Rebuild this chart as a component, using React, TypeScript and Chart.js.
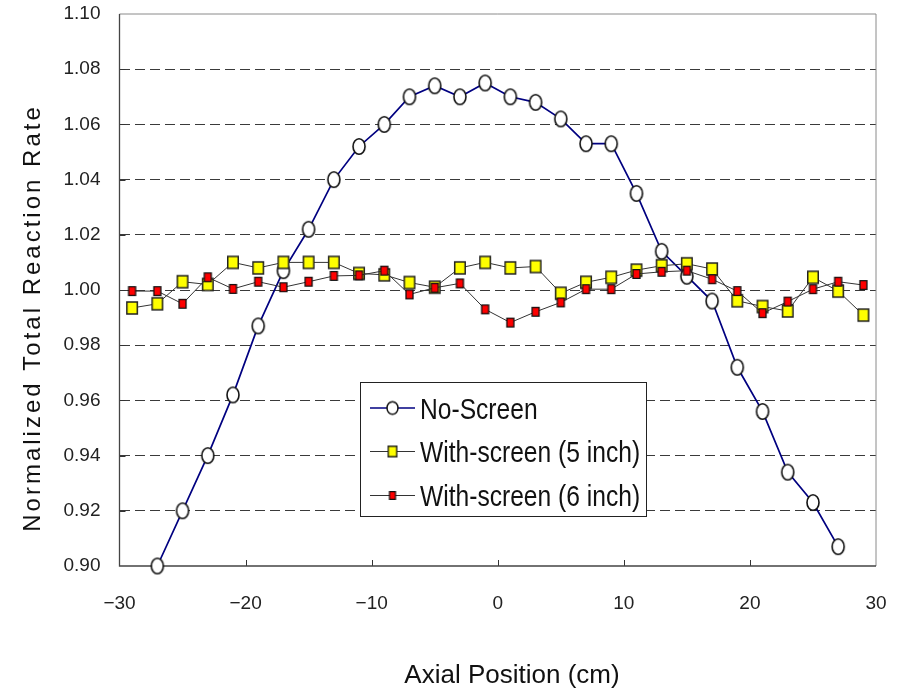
import React, { useEffect, useRef } from 'react';
import { Chart, registerables } from 'chart.js';

Chart.register(...registerables);

// ---- Data ----
const axialNoScreen = [-27, -25, -23, -21, -19, -17, -15, -13, -11, -9, -7, -5, -3, -1, 1, 3, 5, 7, 9, 11, 13, 15, 17, 19, 21, 23, 25, 27];
const noScreen = [0.900, 0.920, 0.940, 0.962, 0.987, 1.007, 1.022, 1.040, 1.052, 1.060, 1.070, 1.074, 1.070, 1.075, 1.070, 1.068, 1.062, 1.053, 1.053, 1.035, 1.014, 1.005, 0.996, 0.972, 0.956, 0.934, 0.923, 0.907];

const axialScreen = [-29, -27, -25, -23, -21, -19, -17, -15, -13, -11, -9, -7, -5, -3, -1, 1, 3, 5, 7, 9, 11, 13, 15, 17, 19, 21, 23, 25, 27, 29];
const withScreen5 = [0.9935, 0.995, 1.003, 1.002, 1.010, 1.008, 1.010, 1.010, 1.010, 1.006, 1.0055, 1.0027, 1.001, 1.008, 1.010, 1.008, 1.0085, 0.9988, 1.0028, 1.0046, 1.0072, 1.0088, 1.0095, 1.0076, 0.9961, 0.994, 0.9924, 1.0046, 0.9996, 0.9909];
const withScreen6 = [0.9996, 0.9996, 0.995, 1.0046, 1.0004, 1.003, 1.001, 1.003, 1.0051, 1.0053, 1.007, 0.9984, 1.0008, 1.0024, 0.993, 0.9882, 0.9921, 0.9955, 1.0003, 1.0003, 1.0058, 1.0066, 1.007, 1.0039, 0.9996, 0.9916, 0.9958, 1.0003, 1.003, 1.0018];

const seriesLabels = ['No-Screen', 'With-screen (5 inch)', 'With-screen (6 inch)'];
const xTitle = 'Axial Position (cm)';
const yTitle = 'Normalized Total Reaction Rate';
const xMin = -30, xMax = 30, xStep = 10;
const yMin = 0.9, yMax = 1.1, yStep = 0.02;

function makeMarker(shape: 'ellipse' | 'rect', w: number, h: number, fill: string, stroke: string, lw: number) {
  const c = document.createElement('canvas');
  const W = Math.ceil(w + lw + 2);
  const H = Math.ceil(h + lw + 2);
  c.width = W;
  c.height = H;
  const g = c.getContext('2d')!;
  g.fillStyle = fill;
  g.strokeStyle = stroke;
  g.lineWidth = lw;
  g.beginPath();
  if (shape === 'ellipse') g.ellipse(W / 2, H / 2, w / 2, h / 2, 0, 0, Math.PI * 2);
  else g.rect(W / 2 - w / 2, H / 2 - h / 2, w, h);
  g.fill();
  g.stroke();
  return c;
}

export default function App() {
  const ref = useRef<HTMLCanvasElement | null>(null);

  useEffect(() => {
    document.body.style.margin = '0';
    const canvas = ref.current;
    if (!canvas) return;

    const tickFont = { family: '"Liberation Sans", Arial, sans-serif', size: 19 };

    const circleImg = makeMarker('ellipse', 12, 15.4, '#ffffff', '#111111', 1.6);
    const yellowImg = makeMarker('rect', 10.5, 12, '#ffff00', '#222222', 1.5);
    const redImg = makeMarker('rect', 7, 8.6, '#ff0000', '#111111', 1.3);
    const circleLeg = makeMarker('ellipse', 11, 12.6, '#ffffff', '#111111', 1.5);
    const yellowLeg = makeMarker('rect', 8.6, 10.6, '#ffff00', '#222222', 1.4);
    const redLeg = makeMarker('rect', 6, 7.6, '#ff0000', '#111111', 1.2);

    const framePlugin = {
      id: 'frame',
      beforeDatasetsDraw(chart: any) {
        const { ctx, chartArea: a, scales } = chart;
        ctx.save();
        ctx.lineWidth = 1;
        ctx.strokeStyle = '#333333';
        for (let v = xMin + xStep; v < xMax; v += xStep) {
          const px = Math.round(scales.x.getPixelForValue(v)) + 0.5;
          ctx.beginPath();
          ctx.moveTo(px, a.bottom);
          ctx.lineTo(px, a.bottom - 6);
          ctx.stroke();
        }
        for (let i = 1; i < Math.round((yMax - yMin) / yStep); i++) {
          const py = Math.round(scales.y.getPixelForValue(yMin + i * yStep)) + 0.5;
          ctx.beginPath();
          ctx.moveTo(a.left, py);
          ctx.lineTo(a.left + 6, py);
          ctx.stroke();
        }
        ctx.strokeStyle = '#8a8a8a';
        ctx.beginPath();
        ctx.moveTo(a.left, a.top);
        ctx.lineTo(a.right, a.top);
        ctx.lineTo(a.right, a.bottom);
        ctx.stroke();
        ctx.strokeStyle = '#444444';
        ctx.lineWidth = 1.3;
        ctx.beginPath();
        ctx.moveTo(a.left, a.top);
        ctx.lineTo(a.left, a.bottom);
        ctx.lineTo(a.right, a.bottom);
        ctx.stroke();
        ctx.restore();
      },
    };

    const overlayPlugin = {
      id: 'overlay',
      afterDraw(chart: any) {
        const { ctx } = chart;
        ctx.save();
        ctx.fillStyle = '#111111';
        ctx.font = '26px "Liberation Sans", Arial, sans-serif';
        ctx.textAlign = 'center';
        ctx.textBaseline = 'alphabetic';
        ctx.fillText(xTitle, 512, 683);
        ctx.save();
        ctx.translate(40, 318);
        ctx.rotate(-Math.PI / 2);
        (ctx as any).letterSpacing = '3px';
        ctx.font = '24px "Liberation Sans", Arial, sans-serif';
        ctx.textBaseline = 'alphabetic';
        ctx.fillText(yTitle, 0, 0);
        ctx.restore();

        // legend
        const bx = 360.5, by = 382.5, bw = 286, bh = 134;
        ctx.fillStyle = '#ffffff';
        ctx.fillRect(bx, by, bw, bh);
        ctx.strokeStyle = '#222222';
        ctx.lineWidth = 1;
        ctx.strokeRect(bx, by, bw, bh);
        const rows = [408, 451.5, 495.5];
        const lineCols = ['#000080', '#333333', '#333333'];
        const imgs = [circleLeg, yellowLeg, redLeg];
        rows.forEach((ry, i) => {
          ctx.strokeStyle = lineCols[i];
          ctx.lineWidth = i === 0 ? 1.6 : 1;
          ctx.beginPath();
          ctx.moveTo(370, ry);
          ctx.lineTo(415, ry);
          ctx.stroke();
          const im = imgs[i];
          ctx.drawImage(im, 392.5 - im.width / 2, ry - im.height / 2);
          ctx.save();
          ctx.translate(420, ry + 10.5);
          ctx.scale(0.82, 1);
          ctx.font = '30px "Liberation Sans", Arial, sans-serif';
          ctx.textAlign = 'left';
          ctx.textBaseline = 'alphabetic';
          ctx.fillStyle = '#111111';
          ctx.fillText(seriesLabels[i], 0, 0);
          ctx.restore();
        });
        ctx.restore();
      },
    };

    const chart = new Chart(canvas, {
      type: 'line',
      data: {
        datasets: [
          {
            label: seriesLabels[0],
            data: axialNoScreen.map((x, i) => ({ x, y: noScreen[i] })),
            borderColor: '#000080',
            backgroundColor: '#ffffff',
            borderWidth: 1.7,
            pointStyle: circleImg as any,
            pointRadius: 7,
            tension: 0,
            fill: false,
            clip: false as any,
            order: 3,
          },
          {
            label: seriesLabels[1],
            data: axialScreen.map((x, i) => ({ x, y: withScreen5[i] })),
            borderColor: '#333333',
            backgroundColor: '#ffff00',
            borderWidth: 1,
            pointStyle: yellowImg as any,
            pointRadius: 7,
            tension: 0,
            fill: false,
            clip: false as any,
            order: 2,
          },
          {
            label: seriesLabels[2],
            data: axialScreen.map((x, i) => ({ x, y: withScreen6[i] })),
            borderColor: '#333333',
            backgroundColor: '#ff0000',
            borderWidth: 1,
            pointStyle: redImg as any,
            pointRadius: 5,
            tension: 0,
            fill: false,
            clip: false as any,
            order: 1,
          },
        ],
      },
      options: {
        responsive: false,
        animation: false,
        events: [],
        layout: { padding: { left: 0, right: 21, top: 14, bottom: 0 } },
        plugins: { legend: { display: false }, tooltip: { enabled: false }, title: { display: false } },
        scales: {
          x: {
            type: 'linear',
            min: xMin,
            max: xMax,
            afterFit: (s: any) => { s.height = 124; s.paddingLeft = 0; s.paddingRight = 0; },
            ticks: {
              stepSize: xStep,
              font: tickFont,
              color: '#222222',
              padding: 26,
              maxRotation: 0,
              callback: (v: any) => (Number(v) < 0 ? '\u2212' + Math.abs(Number(v)) : String(v)),
            },
            grid: { display: false, drawTicks: false },
            border: { display: false },
          },
          y: {
            type: 'linear',
            min: yMin,
            max: yMax,
            afterFit: (s: any) => { s.width = 119.5; s.paddingTop = 0; s.paddingBottom = 0; },
            ticks: {
              stepSize: yStep,
              font: tickFont,
              color: '#222222',
              padding: 19,
              callback: (v: any) => Number(v).toFixed(2),
            },
            grid: {
              drawTicks: false,
              lineWidth: 1,
              color: (c: any) => {
                const v = c.tick ? c.tick.value : 0;
                return Math.abs(v - yMin) < 1e-6 || Math.abs(v - yMax) < 1e-6 ? 'rgba(0,0,0,0)' : '#3a3a3a';
              },
            },
            border: { display: false, dash: [10, 5] },
          },
        },
      },
      plugins: [framePlugin, overlayPlugin],
    } as any);

    return () => chart.destroy();
  }, []);

  return (
    <div style={{ width: 897, height: 690 }}>
      <canvas ref={ref} width={897} height={690} style={{ display: 'block', width: 897, height: 690 }} />
    </div>
  );
}
